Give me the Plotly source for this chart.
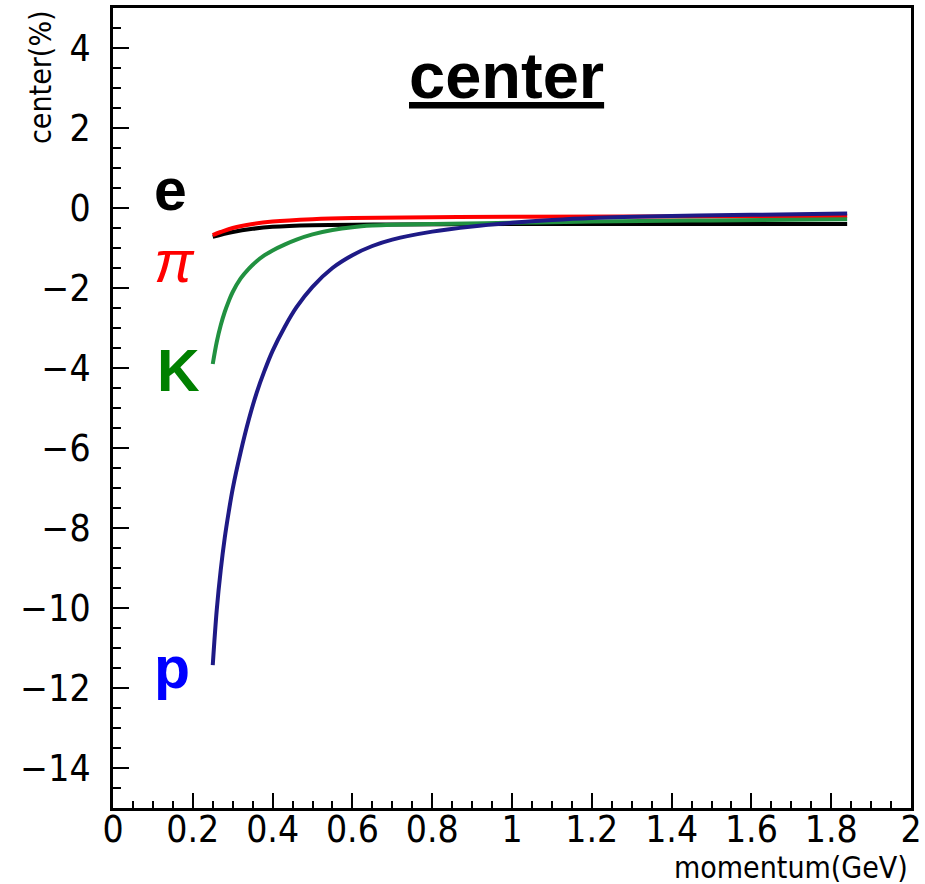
import plotly.graph_objects as go

# ---- data ----
p_e = [0.25, 0.30, 0.35, 0.40, 0.50, 0.70, 1.00, 1.40, 1.84]
c_e = [-0.72, -0.60, -0.52, -0.47, -0.43, -0.41, -0.40, -0.40, -0.40]

p_pi = [0.25, 0.27, 0.30, 0.35, 0.40, 0.50, 0.60, 0.80, 1.00, 1.40, 1.84]
c_pi = [-0.68, -0.60, -0.50, -0.40, -0.34, -0.28, -0.25, -0.23, -0.22, -0.21, -0.20]

p_K = [0.25, 0.26, 0.27, 0.28, 0.29, 0.30, 0.32, 0.34, 0.36, 0.38, 0.40, 0.43, 0.46, 0.50,
       0.55, 0.60, 0.65, 0.70, 0.80, 1.00, 1.20, 1.50, 1.84]
c_K = [-3.90, -3.35, -2.93, -2.60, -2.33, -2.10, -1.76, -1.52, -1.33, -1.18, -1.06, -0.915, -0.79, -0.66,
       -0.55, -0.48, -0.44, -0.42, -0.40, -0.37, -0.34, -0.31, -0.28]

p_p = [0.25, 0.26, 0.27, 0.28, 0.29, 0.30, 0.32, 0.34, 0.36, 0.38, 0.40, 0.43, 0.46, 0.50,
       0.55, 0.60, 0.65, 0.70, 0.80, 0.90, 1.00, 1.10, 1.20, 1.40, 1.60, 1.84]
c_p = [-11.43, -10.05, -9.05, -8.25, -7.6, -7.02, -6.1, -5.3, -4.62, -4.06, -3.57, -2.98, -2.48, -1.97,
       -1.5, -1.18, -0.95, -0.79, -0.59, -0.46, -0.37, -0.3, -0.25, -0.2, -0.17, -0.14]

series = [
    ("e", p_e, c_e, "#000000"),
    ("π", p_pi, c_pi, "#ff0000"),
    ("K", p_K, c_K, "#219140"),
    ("p", p_p, c_p, "#1e1a86"),
]

x_range = [0, 2]
y_range = [-15, 5]

cond = "Liberation Sans Narrow, DejaVu Sans Condensed, sans-serif"
tick_font = dict(family=cond, size=37, color="black")
title_font = dict(family=cond, size=30, color="black")

fig = go.Figure()
for name, xs, ys, col in series:
    fig.add_trace(go.Scatter(x=xs, y=ys, mode="lines", name=name,
                             line=dict(color=col, width=4, shape="spline", smoothing=1.0),
                             showlegend=False, hoverinfo="skip"))

# particle labels
labels = [
    ("<b>e</b>", 0.143, 0.45, "#000000"),
    ("<i>π</i>", 0.153, -1.35, "#ff0000"),
    ("<b>K</b>", 0.163, -4.08, "#008000"),
    ("<b>p</b>", 0.148, -11.5, "#0000ff"),
]
for txt, lx, ly, col in labels:
    fig.add_annotation(x=lx, y=ly, xref="x", yref="y", text=txt, showarrow=False,
                       font=dict(family="Liberation Sans, Arial, sans-serif", size=59, color=col),
                       xanchor="center", yanchor="middle")

fig.add_annotation(x=0.4925, y=0.915, xref="paper", yref="paper",
                   text="<b><u>center</u></b>", showarrow=False,
                   font=dict(family="Liberation Sans, Arial, sans-serif", size=65, color="black"),
                   xanchor="center", yanchor="middle")

# axis titles
fig.add_annotation(x=0.9987, y=-0.074, xref="paper", yref="paper",
                   text="momentum(GeV)", showarrow=False, font=title_font,
                   xanchor="right", yanchor="middle")
fig.add_annotation(x=-0.0915, y=1.0, xref="paper", yref="paper",
                   text="center(%)", showarrow=False, font=title_font, textangle=-90,
                   xanchor="center", yanchor="top")

fig.update_xaxes(range=x_range, dtick=0.2, tick0=0, ticks="inside", ticklen=15,
                 tickwidth=2, tickcolor="black", showline=True, linecolor="black",
                 linewidth=3, mirror=True, showgrid=False, zeroline=False,
                 tickfont=tick_font, tickformat="~g", automargin=False,
                 ticklabelstandoff=-13,
                 minor=dict(dtick=0.05, ticks="inside", ticklen=7, tickwidth=2,
                            tickcolor="black", showgrid=False))
fig.update_yaxes(range=y_range, dtick=2, tick0=0, ticks="inside", ticklen=16,
                 tickwidth=2, tickcolor="black", showline=True, linecolor="black",
                 linewidth=3, mirror=True, showgrid=False, zeroline=False,
                 tickfont=tick_font, automargin=False, ticklabelstandoff=12,
                 minor=dict(dtick=0.5, ticks="inside", ticklen=8, tickwidth=2,
                            tickcolor="black", showgrid=False))

fig.update_layout(width=925, height=884, margin=dict(l=113, r=14, t=8, b=76),
                  plot_bgcolor="white", paper_bgcolor="white")

fig.write_html("out.html")
